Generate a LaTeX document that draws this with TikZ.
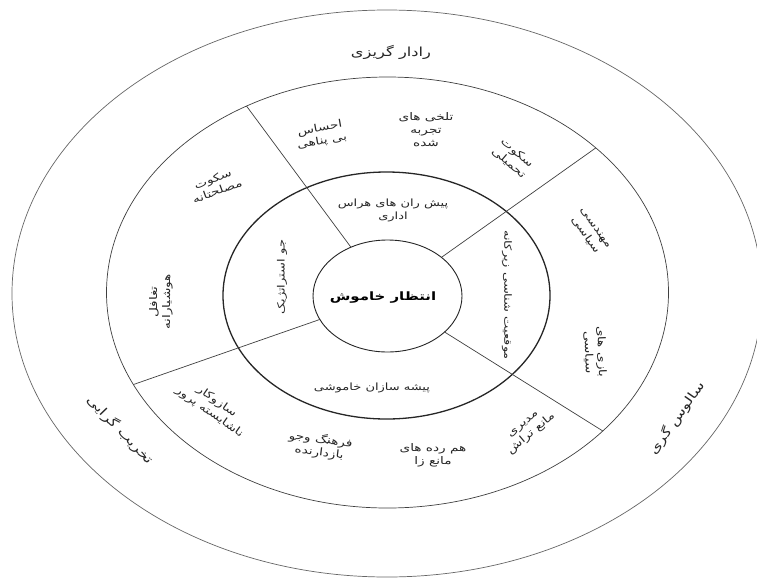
\documentclass[tikz,border=0pt]{standalone}
\usepackage{fontspec}
\usetikzlibrary{intersections}
\newfontfamily\arabicfont[Script=Arabic, FakeStretch=1.3]{DejaVu Sans}
\TeXXeTstate=1
\newcommand{\fatxt}[1]{\beginR #1\endR}
\begin{document}
\begin{tikzpicture}[x=1pt,y=-1pt,
  lbl/.style={font=\arabicfont\fontsize{10.5}{13}\selectfont, align=center, text=black!85, inner sep=0pt},
  midlbl/.style={font=\arabicfont\fontsize{10}{13}\selectfont, align=center, text=black!85, inner sep=0pt},
  biglbl/.style={font=\arabicfont\fontsize{12.5}{15}\selectfont, align=center, text=black!85, inner sep=0pt},
  corelbl/.style={font=\arabicfont\bfseries\fontsize{11.5}{14}\selectfont, align=center, text=black, inner sep=0pt},
  outerline/.style={draw=black!60, line width=0.7pt},
  thinline/.style={draw=black!75, line width=0.7pt},
  thickline/.style={draw=black!85, line width=1.3pt},
  coreline/.style={draw=black!85, line width=0.9pt}]
\useasboundingbox (0,0) rectangle (757,581);
\fill[white] (0,0) rectangle (757,581);

\coordinate (C) at (387,296);
\draw[outerline, name path=outer] (387,293.5) ellipse [x radius=375, y radius=283.5];
\draw[thinline, name path=ringb] (387.5,292.5) ellipse [x radius=281, y radius=215.5];
\draw[thickline, name path=ringa] (386.5,295.5) ellipse [x radius=163.5, y radius=123.5];
\draw[coreline, name path=core] (387.5,296) ellipse [x radius=74.5, y radius=56];

\path[name path=ray1] (C) -- ++(-208.5,-282);
\path[name path=ray2] (C) -- ++(304.5,-216);
\path[name path=ray3] (C) -- ++(-382.5,133.5);
\path[name path=ray4] (C) -- ++(316.5,198);
\path[name intersections={of=ray1 and core, by=r1a}];
\path[name intersections={of=ray1 and ringb, by=r1b}];
\path[name intersections={of=ray2 and core, by=r2a}];
\path[name intersections={of=ray2 and ringb, by=r2b}];
\path[name intersections={of=ray3 and core, by=r3a}];
\path[name intersections={of=ray3 and ringb, by=r3b}];
\path[name intersections={of=ray4 and core, by=r4a}];
\path[name intersections={of=ray4 and ringb, by=r4b}];
\draw[thinline] (r1a) -- (r1b);
\draw[thinline] (r2a) -- (r2b);
\draw[thinline] (r3a) -- (r3b);
\draw[thinline] (r4a) -- (r4b);

% centre
\node[corelbl] (centre) at (383,298) {\fatxt{انتظار خاموش}};

% middle ring
\node[midlbl] (m1) at (393,210) {\fatxt{پیش ران های هراس}\\\fatxt{اداری}};
\node[midlbl, rotate=90] (m2) at (282,277) {\fatxt{جو استراتژیک}};
\node[midlbl, rotate=-90] (m3) at (507,295) {\fatxt{موقعیت شناسی زیرکانه}};
\node[midlbl] (m4) at (372,388) {\fatxt{پیشه سازان خاموشی}};

% segment ring
\node[lbl, rotate=10] (s1) at (321,135) {\fatxt{احساس}\\\fatxt{بی پناهی}};
\node[lbl] (s2) at (426,130) {\fatxt{تلخی های}\\\fatxt{تجربه}\\\fatxt{شده}};
\node[lbl, rotate=-40] (s3) at (513,158) {\fatxt{سکوت}\\\fatxt{تحمیلی}};
\node[lbl, rotate=20] (s4) at (215,185) {\fatxt{سکوت}\\\fatxt{مصلحتانه}};
\node[lbl, rotate=90] (s5) at (161,302) {\fatxt{تغافل}\\\fatxt{هوشیارانه}};
\node[lbl, rotate=-35] (s6) at (213,407) {\fatxt{سازوکار}\\\fatxt{ناشایسته پرور}};
\node[lbl, rotate=-7] (s7) at (320,446) {\fatxt{فرهنگ وجو}\\\fatxt{بازدارنده}};
\node[lbl] (s8) at (433,455) {\fatxt{هم رده های}\\\fatxt{مانع زا}};
\node[lbl, rotate=40] (s9) at (528,430) {\fatxt{مدیری}\\\fatxt{مانع تراش}};
\node[lbl, rotate=-55] (s10) at (590,232) {\fatxt{مهندسی}\\\fatxt{سیاسی}};
\node[lbl, rotate=-88] (s11) at (595,352) {\fatxt{بازی های}\\\fatxt{سیاسی}};

% outer ring
\node[biglbl] (o1) at (391,52) {\fatxt{رادار گریزی}};
\node[biglbl, rotate=-46] (o2) at (120,430) {\fatxt{تخریب گرایی}};
\node[biglbl, rotate=55] (o3) at (677,418) {\fatxt{سالوس گری}};
\end{tikzpicture}
\end{document}
